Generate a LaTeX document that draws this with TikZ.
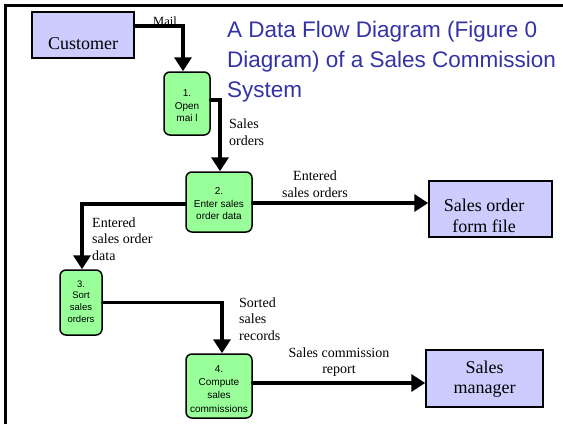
\documentclass[tikz,border=0pt]{standalone}
\usepackage{fontspec}
\setmainfont{Liberation Serif}
\newfontfamily\arialfont{Liberation Sans}
\usetikzlibrary{arrows.meta}
\definecolor{entfill}{RGB}{204,204,255}
\definecolor{procfill}{RGB}{153,255,153}
\definecolor{titleblue}{RGB}{51,51,166}
\tikzset{
  entity/.style={draw=black, line width=1.5pt, fill=entfill, inner sep=0pt},
  entlabel/.style={font=\fontsize{18}{20.5}\selectfont, align=center, inner sep=0pt},
  proc/.style={draw=black, line width=1.5pt, fill=procfill, rounded corners=6pt, inner sep=0pt},
  proclabel/.style={font=\arialfont\fontsize{10}{12.5}\selectfont, align=center, inner sep=0pt},
  flow/.style={line width=3.5pt, line cap=round, -{Triangle[length=14pt,width=17pt]}},
  flowlabel/.style={font=\fontsize{14}{16.5}\selectfont, inner sep=0pt},
  frameline/.style={line width=2.5pt}
}
\begin{document}
\begin{tikzpicture}[x=1pt,y=-1pt]
\useasboundingbox (0,0) rectangle (563,424);
% frame
\draw[frameline] (5.5,424) -- (5.5,5.5) -- (563,5.5);
% title
\node[anchor=base west, inner sep=0pt, align=left, text=titleblue,
      font=\arialfont\fontsize{22.5}{30}\selectfont] (title) at (227,37.5)
  {A Data Flow Diagram (Figure 0};
\node[anchor=base west, inner sep=0pt, align=left, text=titleblue,
      font=\arialfont\fontsize{22.5}{30}\selectfont] (title2) at (227,67.5)
  {Diagram) of a Sales Commission};
\node[anchor=base west, inner sep=0pt, align=left, text=titleblue,
      font=\arialfont\fontsize{22.5}{30}\selectfont] (title3) at (227,97.5)
  {System};
% entities
\node[entity, minimum width=102pt, minimum height=46pt] (cust) at (83,35) {};
\node[entlabel] (custlbl) at (83,44) {Customer};
\node[entity, minimum width=123pt, minimum height=56pt] (sof) at (490.5,209) {};
\node[entlabel] (soflbl) at (484,216) {Sales order\\form file};
\node[entity, minimum width=117pt, minimum height=57pt] (sm) at (484.5,378.5) {};
\node[entlabel] (smlbl) at (484.5,379) {Sales\\manager};
% processes
\node[proc, minimum width=46pt, minimum height=63pt] (p1) at (187,103.5) {};
\node[proclabel] (p1lbl) at (187,106) {1.\\Open\\mai l};
\node[proc, minimum width=66pt, minimum height=60pt] (p2) at (219,202) {};
\node[proclabel] (p2lbl) at (219,204) {2.\\Enter sales\\order data};
\node[proc, minimum width=42pt, minimum height=65pt] (p3) at (81,302.5) {};
\node[proclabel, font=\arialfont\fontsize{9.5}{11.7}\selectfont] (p3lbl) at (81,301.5) {3.\\Sort\\sales\\orders};
\node[proc, minimum width=66pt, minimum height=64pt] (p4) at (219,386) {};
\node[proclabel, font=\arialfont\fontsize{10}{13.2}\selectfont] (p4lbl) at (219,389) {4.\\Compute\\sales\\commissions};
% flows
\draw[flow] ([yshift=9pt]cust.east) -| ([xshift=-4pt]p1.north);
\draw[flow] ([yshift=3.5pt]p1.east) -| ([xshift=1pt]p2.north);
\draw[flow] ([yshift=-1pt]p2.east) -- ([yshift=-1pt]p2.east -| sof.west);
\draw[flow] ([yshift=-2pt]p2.west) -| ([xshift=1pt]p3.north);
\draw[flow] (p3.east) -| ([xshift=3pt]p4.north);
\draw[flow] ([yshift=3pt]p4.east) -- ([yshift=3pt]p4.east -| sm.west);
% flow labels
\node[flowlabel, font=\fontsize{12.5}{14}\selectfont, anchor=base] (lmail) at (165,25) {Mail};
\node[flowlabel, anchor=west, align=left] (lso) at (229,132) {Sales\\orders};
\node[flowlabel, align=center] (leso) at (315,184) {Entered\\sales orders};
\node[flowlabel, anchor=west, align=left] (lesod) at (92,239) {Entered\\sales order\\data};
\node[flowlabel, anchor=west, align=left] (lssr) at (239,319) {Sorted\\sales\\records};
\node[flowlabel, align=center] (lscr) at (339,362) {Sales commission\\report};
\end{tikzpicture}
\end{document}
